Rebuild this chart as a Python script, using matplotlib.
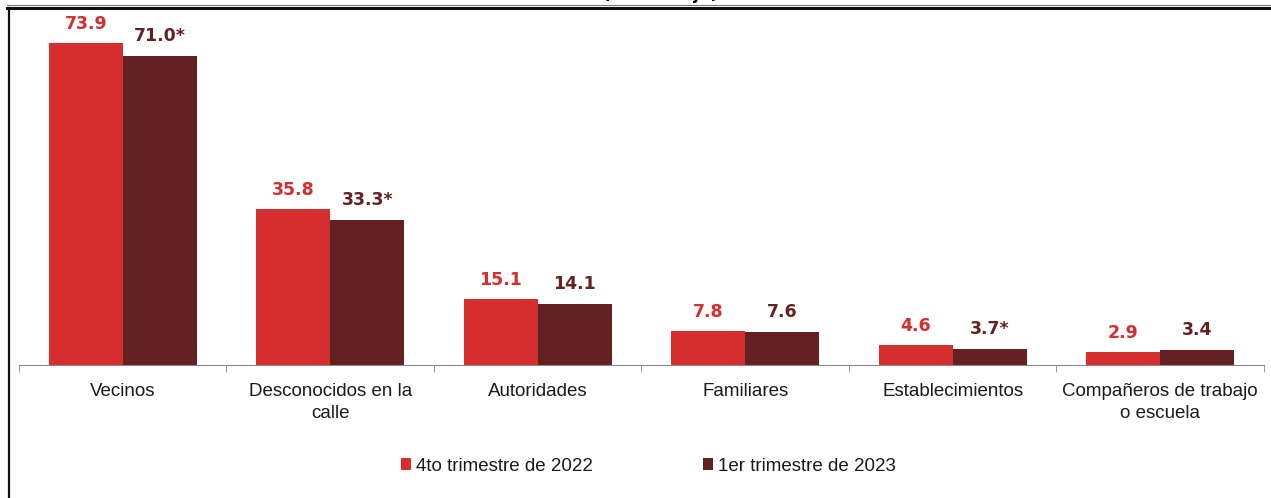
import numpy as np
import matplotlib.pyplot as plt
from matplotlib.lines import Line2D

categorias = ['Vecinos', 'Desconocidos en la\ncalle', 'Autoridades', 'Familiares',
              'Establecimientos', 'Compañeros de trabajo\no escuela']
serie_2022 = [73.9, 35.8, 15.1, 7.8, 4.6, 2.9]
serie_2023 = [71.0, 33.3, 14.1, 7.6, 3.7, 3.4]
etiquetas_2023 = ['71.0*', '33.3*', '14.1', '7.6', '3.7*', '3.4']
nombres = ['4to trimestre de 2022', '1er trimestre de 2023']

ROJO = '#D62E2E'
VINO = '#642121'

plt.rcParams['font.family'] = ['Liberation Sans', 'DejaVu Sans']

fig = plt.figure(figsize=(12.71, 4.98), dpi=100)
ax = fig.add_axes([19 / 1271, 0.267, 1245 / 1271, 0.70])

x = np.arange(len(categorias))
w = 0.357
b1 = ax.bar(x - w / 2, serie_2022, w, color=ROJO, label=nombres[0])
b2 = ax.bar(x + w / 2, serie_2023, w, color=VINO, label=nombres[1])

for r, v in zip(b1, serie_2022):
    ax.text(r.get_x() + r.get_width() / 2, v + 4.4, f'{v:.1f}', ha='center', va='center',
            color=ROJO, fontsize=12.5, fontweight='bold', family='DejaVu Sans')
for r, v, t in zip(b2, serie_2023, etiquetas_2023):
    ax.text(r.get_x() + r.get_width() / 2, v + 4.6, t, ha='center', va='center',
            color=VINO, fontsize=12.5, fontweight='bold', family='DejaVu Sans')

ax.set_xlim(-0.5, len(categorias) - 0.5)
ax.set_ylim(0, 80)
for s in ['top', 'right', 'left']:
    ax.spines[s].set_visible(False)
ax.spines['bottom'].set_color('#888888')
ax.set_yticks([])
ax.set_xticks(x)
ax.set_xticklabels(categorias, fontsize=13.5, color='#1a1a1a', linespacing=1.4)
ax.tick_params(axis='x', which='major', length=0, pad=13)
ax.set_xticks(np.arange(-0.5, len(categorias)), minor=True)
ax.tick_params(axis='x', which='minor', length=5, color='#888888')

fig.legend(handles=[b1, b2], labels=nombres, loc='center', bbox_to_anchor=(0.51, 0.064),
           ncol=2, frameon=False, fontsize=13.5, handlelength=0.55, handleheight=0.55,
           handletextpad=0.25, columnspacing=5.9, labelcolor='#1a1a1a')

# marco y titulo recortado
fig.text(661 / 1271, 1 + 1 / 498, '(Porcentaje)', ha='center', va='baseline', fontsize=12,
         fontweight='bold', family='DejaVu Sans')
fig.add_artist(Line2D([7 / 1271, 1], [1 - 8 / 498] * 2, color='#111111', lw=2.2))
fig.add_artist(Line2D([7 / 1271, 1], [1 - 5 / 498] * 2, color='#777777', lw=0.8))
fig.add_artist(Line2D([9 / 1271] * 2, [0, 1 - 8 / 498], color='#111111', lw=1.6))

fig.savefig('out.png', dpi=100)
